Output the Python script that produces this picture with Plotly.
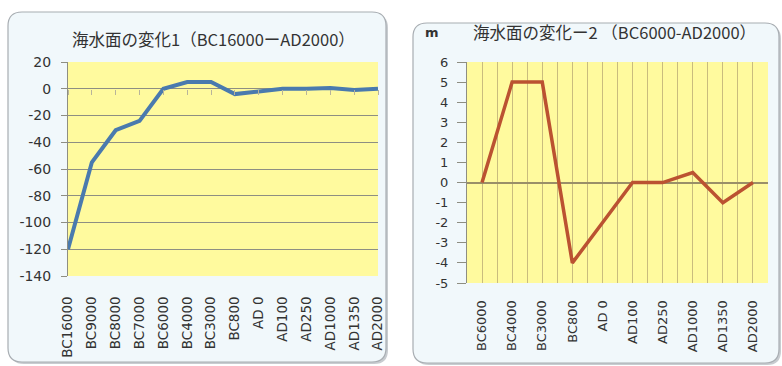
import plotly.graph_objects as go

# ---- data ----
periods_long = ["BC16000", "BC9000", "BC8000", "BC7000", "BC6000", "BC4000", "BC3000",
                "BC800", "AD 0", "AD100", "AD250", "AD1000", "AD1350", "AD2000"]
level_long = [-120, -55, -31, -24, 0, 5, 5, -4, -2, 0, 0, 0.5, -1, 0]

periods_short = ["BC6000", "BC4000", "BC3000", "BC800", "AD 0", "AD100", "AD250",
                 "AD1000", "AD1350", "AD2000"]
level_short = [0, 5, 5, -4, -2, 0, 0, 0.5, -1, 0]

yticks_long = list(range(-140, 21, 20))
yticks_short = list(range(-5, 7))

W, H = 782, 366
FONT = "DejaVu Sans, Noto Sans CJK JP, sans-serif"
TITLE_FONT = "Noto Sans CJK JP, DejaVu Sans, sans-serif"
YELLOW = "#FFFA9E"


def px(x):
    return x / W


def py(y):
    return 1 - y / H


def rounded_box(x0, y0, x1, y1, r):
    """SVG path of a rounded rectangle given in pixels, converted to paper units."""
    rx, ry = r / W, r / H
    X0, X1 = px(x0), px(x1)
    Y0, Y1 = py(y0), py(y1)  # Y0 top, Y1 bottom
    return (f"M {X0 + rx} {Y0} L {X1 - rx} {Y0} Q {X1} {Y0} {X1} {Y0 - ry} "
            f"L {X1} {Y1 + ry} Q {X1} {Y1} {X1 - rx} {Y1} "
            f"L {X0 + rx} {Y1} Q {X0} {Y1} {X0} {Y1 + ry} "
            f"L {X0} {Y0 - ry} Q {X0} {Y0} {X0 + rx} {Y0} Z")


def label(v):
    return str(v)  # plain hyphen for negatives


fig = go.Figure()

fig.add_trace(go.Scatter(
    x=list(range(len(periods_long))), y=level_long, mode="lines",
    line=dict(color="#4A7AAE", width=4), xaxis="x", yaxis="y",
    hoverinfo="skip", showlegend=False))

fig.add_trace(go.Scatter(
    x=list(range(len(periods_short))), y=level_short, mode="lines",
    line=dict(color="#BB5231", width=3.5), xaxis="x2", yaxis="y2",
    hoverinfo="skip", showlegend=False))

# plot areas (pixels)
L = dict(x0=68, x1=378, y0=62, y1=276)
R = dict(x0=467, x1=768, y0=62, y1=283)

grid_col = "#8E8E82"
tan = "#C9BC7E"

ylo, yhi = -140, 20
zero_pos = py(L["y1"]) + (0 - ylo) / (yhi - ylo) * (py(L["y0"]) - py(L["y1"]))

fig.update_layout(
    width=W, height=H, margin=dict(l=0, r=0, t=0, b=0, autoexpand=False),
    paper_bgcolor="white", plot_bgcolor="rgba(0,0,0,0)",
    font=dict(family=FONT, size=13, color="#333333"),
    xaxis=dict(domain=[px(L["x0"]), px(L["x1"])], anchor="y", range=[0, 13],
               tickmode="array", tickvals=list(range(len(periods_long))),
               ticktext=periods_long, tickangle=-90, showgrid=False,
               ticks="outside", ticklen=14, tickcolor="rgba(0,0,0,0)",
               tickfont=dict(size=13.5), showline=False, zeroline=False,
               automargin=False),
    xaxis3=dict(domain=[px(L["x0"]), px(L["x1"])], overlaying="x", anchor="free",
                position=zero_pos, range=[0, 13], tickmode="array",
                tickvals=list(range(len(periods_long))), showticklabels=False,
                ticks="outside", ticklen=5, tickcolor="#B8B49A", showgrid=False,
                showline=False, zeroline=False, automargin=False),
    yaxis=dict(domain=[py(L["y1"]), py(L["y0"])], anchor="x", range=[ylo, yhi],
               tickmode="array", tickvals=yticks_long,
               ticktext=[label(v) for v in yticks_long],
               showgrid=True, gridcolor=grid_col, gridwidth=1,
               showline=True, linecolor=grid_col, ticks="outside", ticklen=6,
               tickcolor=grid_col, zeroline=False, tickfont=dict(size=14),
               ticklabelstandoff=7, automargin=False),
    xaxis2=dict(domain=[px(R["x0"]), px(R["x1"])], anchor="y2", range=[-0.5, 9.5],
                tickmode="array", tickvals=list(range(len(periods_short))),
                ticktext=periods_short, tickangle=-90, showgrid=True,
                gridcolor=tan, gridwidth=1, ticks="outside", ticklen=11,
                tickcolor="rgba(0,0,0,0)", zeroline=False, showline=False,
                minor=dict(tick0=-0.5, dtick=1, showgrid=True, gridcolor=tan,
                           gridwidth=1, ticks=""),
                tickfont=dict(size=13), automargin=False),
    yaxis2=dict(domain=[py(R["y1"]), py(R["y0"])], anchor="x2", range=[-5, 6],
                tickmode="array", tickvals=yticks_short,
                ticktext=[label(v) for v in yticks_short],
                showgrid=False, showline=True,
                linecolor="#8E8E82", ticks="outside", ticklen=9, tickcolor="#8E8E82",
                zeroline=True, zerolinecolor="#9A8F68", zerolinewidth=1.5,
                tickfont=dict(size=13), ticklabelstandoff=6, automargin=False),
)

# keep the overlay axis alive with an invisible trace
fig.add_trace(go.Scatter(x=[0], y=[0], xaxis="x3", yaxis="y", mode="markers",
                         marker=dict(opacity=0), hoverinfo="skip", showlegend=False))

# chart frames with a soft shadow
for (x0, y0, x1, y1) in [(8, 12, 386, 362), (413, 23, 779, 363)]:
    fig.add_shape(type="path", path=rounded_box(x0 + 2, y0 + 2, x1 + 2, y1 + 2, 14),
                  xref="paper", yref="paper", layer="below",
                  fillcolor="#C8CCD0", line=dict(width=0))
    fig.add_shape(type="path", path=rounded_box(x0, y0, x1, y1, 14),
                  xref="paper", yref="paper", layer="below",
                  fillcolor="#F1F8FB", line=dict(color="#A8ADB2", width=1.2))

# yellow plot areas, following each subplot's domain
for xa, ya in [("xaxis", "yaxis"), ("xaxis2", "yaxis2")]:
    xd = fig.layout[xa].domain
    yd = fig.layout[ya].domain
    fig.add_shape(type="rect", xref="paper", yref="paper", layer="below",
                  x0=xd[0], x1=xd[1], y0=yd[0], y1=yd[1],
                  fillcolor=YELLOW, line=dict(width=0))

# titles
fig.add_annotation(
    x=px(213), y=py(39), xref="paper", yref="paper", showarrow=False,
    xanchor="center", yanchor="middle", text="海水面の変化1（BC16000ーAD2000）",
    font=dict(family=TITLE_FONT, size=16.5, color="#333333"))
fig.add_annotation(
    x=px(614), y=py(32), xref="paper", yref="paper", showarrow=False,
    xanchor="center", yanchor="middle", text="海水面の変化ー2 （BC6000-AD2000）",
    font=dict(family=TITLE_FONT, size=16.5, color="#333333"))
fig.add_annotation(
    x=px(432), y=py(33), xref="paper", yref="paper", showarrow=False,
    xanchor="center", yanchor="middle", text="<b>m</b>",
    font=dict(family=FONT, size=13, color="#333333"))

fig.write_html("out.html")
